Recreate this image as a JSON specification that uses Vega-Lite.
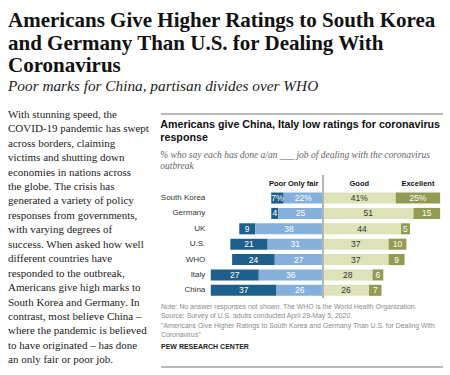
{
  "$schema": "https://vega.github.io/schema/vega-lite/v6.json",
  "background": "white",
  "padding": {"left": 8, "top": 10, "right": 0, "bottom": 0},
  "config": {"view": {"stroke": null}},
  "title": {
    "text": ["Americans Give Higher Ratings to South Korea", "and Germany Than U.S. for Dealing With", "Coronavirus"],
    "subtitle": "Poor marks for China, partisan divides over WHO",
    "anchor": "start",
    "font": "Liberation Serif", "fontSize": 21, "fontWeight": "bold", "lineHeight": 22.5, "color": "#111",
    "subtitleFont": "Liberation Serif", "subtitleFontSize": 15.3, "subtitleFontStyle": "italic", "subtitleColor": "#222",
    "subtitlePadding": 3,
    "offset": 14
  },
  "spacing": 7,
  "hconcat": [
    {
      "width": 145, "height": 260,
      "data": {"values": [
        {"line": 1, "text": "With stunning speed, the"},
        {"line": 2, "text": "COVID-19 pandemic has swept"},
        {"line": 3, "text": "across borders, claiming"},
        {"line": 4, "text": "victims and shutting down"},
        {"line": 5, "text": "economies in nations across"},
        {"line": 6, "text": "the globe. The crisis has"},
        {"line": 7, "text": "generated a variety of policy"},
        {"line": 8, "text": "responses from governments,"},
        {"line": 9, "text": "with varying degrees of"},
        {"line": 10, "text": "success. When asked how well"},
        {"line": 11, "text": "different countries have"},
        {"line": 12, "text": "responded to the outbreak,"},
        {"line": 13, "text": "Americans give high marks to"},
        {"line": 14, "text": "South Korea and Germany. In"},
        {"line": 15, "text": "contrast, most believe China –"},
        {"line": 16, "text": "where the pandemic is believed"},
        {"line": 17, "text": "to have originated – has done"},
        {"line": 18, "text": "an only fair or poor job."}
      ]},
      "mark": {"type": "text", "align": "left", "baseline": "alphabetic", "font": "Liberation Serif", "fontSize": 11, "color": "#222", "dy": -3.5},
      "encoding": {
        "y": {"field": "line", "type": "ordinal", "axis": null, "scale": {"type": "band", "paddingInner": 0, "paddingOuter": 0}},
        "x": {"value": 0},
        "text": {"field": "text"}
      }
    },
    {
      "spacing": 3,
      "vconcat": [
        {
          "width": 282, "height": 2,
          "data": {"values": [{"edge": "top"}]},
          "mark": {"type": "rule", "color": "#777", "strokeWidth": 1},
          "encoding": {"y": {"value": 0}}
        },
        {
          "width": 279.5, "height": 123,
          "title": {
            "text": ["Americans give China, Italy low ratings for coronavirus", "response"],
            "subtitle": ["% who say each has done a/an ___ job of dealing with the coronavirus", "outbreak"],
            "anchor": "start",
            "font": "Liberation Sans", "fontSize": 10.7, "fontWeight": "bold", "lineHeight": 12.5, "color": "#111",
            "subtitleFont": "Liberation Serif", "subtitleFontSize": 9.5, "subtitleFontStyle": "italic", "subtitleColor": "#666",
            "subtitleLineHeight": 11.5, "subtitlePadding": 6,
            "offset": 3
          },
          "data": {"values": [
            {"country": "South Korea", "category": "Poor", "value": -7, "label": "7%", "rank": 2},
            {"country": "South Korea", "category": "Only fair", "value": -22, "label": "22%", "rank": 1},
            {"country": "South Korea", "category": "Good", "value": 41, "label": "41%", "rank": 3},
            {"country": "South Korea", "category": "Excellent", "value": 25, "label": "25%", "rank": 4},
            {"country": "Germany", "category": "Poor", "value": -4, "label": "4", "rank": 2},
            {"country": "Germany", "category": "Only fair", "value": -25, "label": "25", "rank": 1},
            {"country": "Germany", "category": "Good", "value": 51, "label": "51", "rank": 3},
            {"country": "Germany", "category": "Excellent", "value": 15, "label": "15", "rank": 4},
            {"country": "UK", "category": "Poor", "value": -9, "label": "9", "rank": 2},
            {"country": "UK", "category": "Only fair", "value": -38, "label": "38", "rank": 1},
            {"country": "UK", "category": "Good", "value": 44, "label": "44", "rank": 3},
            {"country": "UK", "category": "Excellent", "value": 5, "label": "5", "rank": 4},
            {"country": "U.S.", "category": "Poor", "value": -21, "label": "21", "rank": 2},
            {"country": "U.S.", "category": "Only fair", "value": -31, "label": "31", "rank": 1},
            {"country": "U.S.", "category": "Good", "value": 37, "label": "37", "rank": 3},
            {"country": "U.S.", "category": "Excellent", "value": 10, "label": "10", "rank": 4},
            {"country": "WHO", "category": "Poor", "value": -24, "label": "24", "rank": 2},
            {"country": "WHO", "category": "Only fair", "value": -27, "label": "27", "rank": 1},
            {"country": "WHO", "category": "Good", "value": 37, "label": "37", "rank": 3},
            {"country": "WHO", "category": "Excellent", "value": 9, "label": "9", "rank": 4},
            {"country": "Italy", "category": "Poor", "value": -27, "label": "27", "rank": 2},
            {"country": "Italy", "category": "Only fair", "value": -36, "label": "36", "rank": 1},
            {"country": "Italy", "category": "Good", "value": 28, "label": "28", "rank": 3},
            {"country": "Italy", "category": "Excellent", "value": 6, "label": "6", "rank": 4},
            {"country": "China", "category": "Poor", "value": -37, "label": "37", "rank": 2},
            {"country": "China", "category": "Only fair", "value": -26, "label": "26", "rank": 1},
            {"country": "China", "category": "Good", "value": 26, "label": "26", "rank": 3},
            {"country": "China", "category": "Excellent", "value": 7, "label": "7", "rank": 4}
          ]},
          "layer": [
            {
              "mark": {"type": "bar"},
              "encoding": {
                "x": {"field": "value", "type": "quantitative", "stack": "zero", "scale": {"domain": [-91, 66.2], "nice": false, "zero": false}, "axis": null},
                "y": {"field": "country", "type": "nominal", "sort": null,
                  "scale": {"domain": ["", "South Korea", "Germany", "UK", "U.S.", "WHO", "Italy", "China"], "paddingInner": 0.28, "paddingOuter": 0.14},
                  "axis": {"title": null, "domain": false, "ticks": false, "labelPadding": 6, "offset": -49.8, "labelFont": "Liberation Sans", "labelFontSize": 8, "labelColor": "#333"}},
                "color": {"field": "category", "type": "nominal", "legend": null,
                  "scale": {"domain": ["Poor", "Only fair", "Good", "Excellent"], "range": ["#1f5f8c", "#86b0dc", "#dde2b8", "#939b52"]}},
                "order": {"field": "rank", "type": "quantitative"}
              }
            },
            {
              "mark": {"type": "rule", "color": "#b5b5b5", "strokeWidth": 1},
              "encoding": {"x": {"datum": 0, "type": "quantitative"}}
            },
            {
              "mark": {"type": "text", "font": "Liberation Sans", "fontSize": 8.5, "baseline": "middle", "align": "center"},
              "encoding": {
                "x": {"field": "value", "type": "quantitative", "stack": "zero", "bandPosition": 0.5},
                "y": {"field": "country", "type": "nominal"},
                "detail": {"field": "category"},
                "order": {"field": "rank", "type": "quantitative"},
                "text": {"field": "label"},
                "color": {"condition": {"test": "datum.category === 'Good'", "value": "#333"}, "value": "white"}
              }
            },
            {
              "transform": [{"filter": "datum.country === 'South Korea'"}],
              "mark": {"type": "text", "font": "Liberation Sans", "fontSize": 7.5, "fontWeight": "bold", "baseline": "middle", "align": "center", "color": "#111", "dy": -14},
              "encoding": {
                "x": {"field": "value", "type": "quantitative", "stack": "zero", "bandPosition": 0.5},
                "y": {"field": "country", "type": "nominal"},
                "detail": {"field": "category"},
                "order": {"field": "rank", "type": "quantitative"},
                "text": {"field": "category"}
              }
            }
          ]
        },
        {
          "width": 282, "height": 61,
          "data": {"values": [
            {"line": 1, "kind": "note", "text": "Note: No answer responses not shown. The WHO is the World Health Organization."},
            {"line": 2, "kind": "note", "text": "Source: Survey of U.S. adults conducted April 29-May 5, 2020."},
            {"line": 3, "kind": "note", "text": "\"Americans Give Higher Ratings to South Korea and Germany Than U.S. for Dealing With"},
            {"line": 4, "kind": "note", "text": "Coronavirus\""},
            {"line": 6, "kind": "source", "text": "PEW RESEARCH CENTER"}
          ]},
          "encoding": {
            "y": {"field": "line", "type": "ordinal", "axis": null, "scale": {"type": "band", "domain": [1, 2, 3, 4, 5, 6], "paddingInner": 0, "paddingOuter": 0.21, "align": 0}},
            "x": {"value": 0},
            "text": {"field": "text"}
          },
          "layer": [
            {
              "transform": [{"filter": "datum.kind === 'note'"}],
              "mark": {"type": "text", "align": "left", "baseline": "middle", "font": "Liberation Sans", "fontSize": 6.9, "color": "#8a8a8a"}
            },
            {
              "transform": [{"filter": "datum.kind === 'source'"}],
              "mark": {"type": "text", "align": "left", "baseline": "middle", "font": "Liberation Sans", "fontSize": 7, "fontWeight": "bold", "color": "#222", "dy": -7}
            }
          ]
        },
        {
          "width": 282, "height": 1,
          "data": {"values": [{"edge": "bottom"}]},
          "mark": {"type": "rule", "color": "#777", "strokeWidth": 1},
          "encoding": {"y": {"value": 0}}
        }
      ]
    }
  ]
}
